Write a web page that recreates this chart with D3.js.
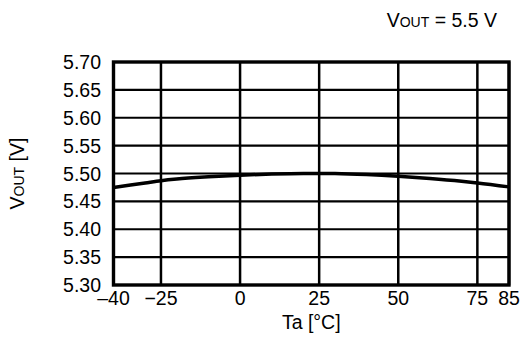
<!DOCTYPE html>
<html><head><meta charset="utf-8">
<script src="https://cdn.jsdelivr.net/npm/d3@7/dist/d3.min.js"></script>
<style>body{margin:0;background:#fff}svg{display:block}text{font-family:"Liberation Sans",Arial,sans-serif;fill:#000}</style>
</head><body><svg id="c" width="531" height="354"></svg>
<script>
const xTicks = [-40, -25, 0, 25, 50, 75, 85];
const xTickLabels = ["\u201340", "\u221225", "0", "25", "50", "75", "85"];
const yTicks = [5.30, 5.35, 5.40, 5.45, 5.50, 5.55, 5.60, 5.65, 5.70];
const temps = [-40, -30, -25, -20, -10, 0, 10, 20, 25, 30, 40, 50, 60, 70, 75, 85];
const vout  = [5.475, 5.483, 5.487, 5.490, 5.494, 5.497, 5.499, 5.500, 5.500, 5.4998, 5.498, 5.495, 5.491, 5.486, 5.483, 5.476];

const svg = d3.select("#c");
const L = 113.5, R = 509, T = 62, B = 285;
const x = d3.scaleLinear().domain([-40, 85]).range([L, R]);
const y = d3.scaleLinear().domain([5.30, 5.70]).range([B, T]);

// grid
svg.append("g").selectAll("line").data(yTicks).join("line")
  .attr("x1", L).attr("x2", R).attr("y1", d => y(d)).attr("y2", d => y(d))
  .attr("stroke", "#000").attr("stroke-width", 2.2);
svg.append("g").selectAll("line").data(xTicks).join("line")
  .attr("x1", d => x(d)).attr("x2", d => x(d)).attr("y1", T).attr("y2", B)
  .attr("stroke", "#000").attr("stroke-width", 2.5);

// curve
const line = d3.line().x((d, i) => x(temps[i])).y(d => y(d)).curve(d3.curveMonotoneX);
svg.append("path").datum(vout).attr("d", line)
  .attr("fill", "none").attr("stroke", "#000").attr("stroke-width", 3.5);

// border
svg.append("rect").attr("x", L).attr("y", T).attr("width", R - L).attr("height", B - T)
  .attr("fill", "none").attr("stroke", "#000").attr("stroke-width", 3.4);

// y tick labels
svg.append("g").selectAll("text").data(yTicks).join("text")
  .attr("x", 101).attr("y", d => y(d)).attr("dy", "0.36em")
  .attr("text-anchor", "end").attr("font-size", 19.5)
  .text(d => d3.format(".2f")(d));

// x tick labels
svg.append("g").selectAll("text").data(xTicks).join("text")
  .attr("x", d => x(d)).attr("y", 305)
  .attr("text-anchor", "middle").attr("font-size", 19.5)
  .text((d, i) => xTickLabels[i]);

// x title
svg.append("text").attr("x", (L + R) / 2).attr("y", 329)
  .attr("text-anchor", "middle").attr("font-size", 19.5).text("Ta [\u00B0C]");

// y title
const yt = svg.append("text").attr("transform", `translate(24,${(T + B) / 2}) rotate(-90)`)
  .attr("text-anchor", "middle").attr("font-size", 19.5);
yt.append("tspan").text("V");
yt.append("tspan").attr("font-size", 14).text("OUT");
yt.append("tspan").text(" [V]");

// title
const tt = svg.append("text").attr("x", 497).attr("y", 27)
  .attr("text-anchor", "end").attr("font-size", 19.5);
tt.append("tspan").text("V");
tt.append("tspan").attr("font-size", 14).text("OUT");
tt.append("tspan").text(" = 5.5 V");
</script></body></html>
